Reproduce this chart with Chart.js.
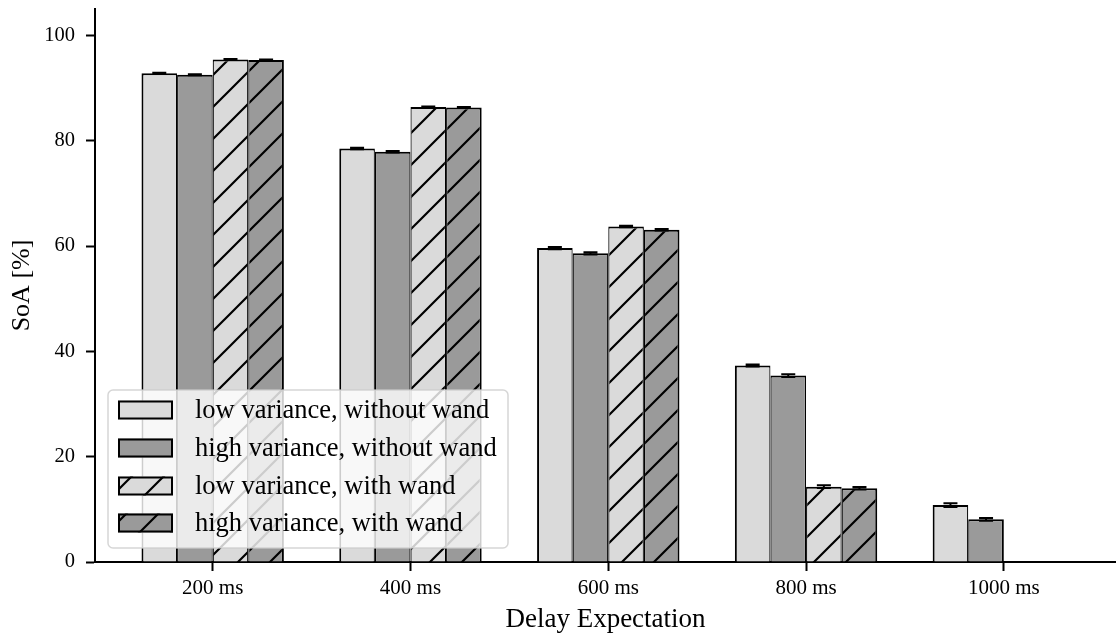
<!DOCTYPE html>
<html>
<head>
<meta charset="utf-8">
<script src="https://cdn.jsdelivr.net/npm/chart.js@4"></script>
<style>
  html, body { margin: 0; padding: 0; background: #fff; overflow: hidden; }
  canvas { display: block; }
</style>
</head>
<body>
<canvas id="c" width="1116" height="637"></canvas>
<script>
// ---- data ----
const categories = ['200 ms', '400 ms', '600 ms', '800 ms', '1000 ms'];
const seriesLabels = ['low variance, without wand', 'high variance, without wand', 'low variance, with wand', 'high variance, with wand'];
const lowNoWand  = [92.8, 78.5, 59.6, 37.3, 10.8];
const highNoWand = [92.5, 77.9, 58.6, 35.4, 8.1];
const lowWand    = [95.4, 86.4, 63.7, 14.3, null];
const highWand   = [95.3, 86.3, 63.1, 14.0, null];
const errLowNoWand  = [0.1, 0.15, 0.2, 0.2, 0.35];
const errHighNoWand = [0.1, 0.15, 0.2, 0.25, 0.25];
const errLowWand    = [0.1, 0.1, 0.15, 0.25, null];
const errHighWand   = [0.1, 0.1, 0.15, 0.25, null];
const yTicks = [0, 20, 40, 60, 80, 100];

// ---- styles ----
const LIGHT = '#dadada';
const DARK = '#9a9a9a';
const FONT = "'Liberation Serif', 'DejaVu Serif', serif";

function hatch(bg) {
  const c = document.createElement('canvas');
  c.width = 32; c.height = 32;
  const g = c.getContext('2d');
  g.fillStyle = bg; g.fillRect(0, 0, 32, 32);
  g.strokeStyle = '#000'; g.lineWidth = 2.2; g.lineCap = 'square';
  g.beginPath();
  g.moveTo(0, 32); g.lineTo(32, 0);
  g.moveTo(-8, 8); g.lineTo(8, -8);
  g.moveTo(24, 40); g.lineTo(40, 24);
  g.stroke();
  return g.createPattern(c, 'repeat');
}

const values = [lowNoWand, highNoWand, lowWand, highWand];
const errors = [errLowNoWand, errHighNoWand, errLowWand, errHighWand];
const fills = [LIGHT, DARK, hatch(LIGHT), hatch(DARK)];

function hasVal(ds, i) { return ds >= 0 && ds < values.length && values[ds][i] != null; }

const datasets = values.map((arr, k) => ({
  label: seriesLabels[k],
  data: arr.map((v, i) => ({ x: i, y: v })),
  backgroundColor: fills[k],
  borderColor: '#000',
  borderSkipped: false,
  borderWidth: (ctx) => {
    const i = ctx.dataIndex, d = ctx.datasetIndex;
    return { top: 2, bottom: 0, left: hasVal(d - 1, i) ? 1.2 : 2, right: hasVal(d + 1, i) ? 1.2 : 2 };
  },
  barPercentage: 1.0,
  categoryPercentage: 0.72
}));

const errorBars = {
  id: 'errorBars',
  afterDatasetsDraw(chart) {
    const ctx = chart.ctx, ys = chart.scales.y;
    ctx.save();
    ctx.strokeStyle = '#000';
    ctx.lineWidth = 2;
    chart.data.datasets.forEach((ds, k) => {
      const meta = chart.getDatasetMeta(k);
      meta.data.forEach((el, i) => {
        const v = values[k][i], e = errors[k][i];
        if (v == null || e == null) return;
        const y1 = ys.getPixelForValue(v - e), y2 = ys.getPixelForValue(v + e);
        ctx.beginPath();
        ctx.moveTo(el.x, y1); ctx.lineTo(el.x, y2);
        ctx.moveTo(el.x - 7, y1); ctx.lineTo(el.x + 7, y1);
        ctx.moveTo(el.x - 7, y2); ctx.lineTo(el.x + 7, y2);
        ctx.stroke();
      });
    });
    ctx.restore();
  }
};

const innerLegend = {
  id: 'innerLegend',
  afterDraw(chart) {
    const ctx = chart.ctx;
    const bx = 108, by = 390, bw = 400, bh = 158, r = 5;
    ctx.save();
    ctx.beginPath();
    ctx.roundRect(bx, by, bw, bh, r);
    ctx.fillStyle = 'rgba(255,255,255,0.8)';
    ctx.fill();
    ctx.strokeStyle = 'rgba(204,204,204,0.8)';
    ctx.lineWidth = 1.5;
    ctx.stroke();
    const rowY = [410, 448, 486, 523];
    chart.data.datasets.forEach((ds, k) => {
      const cy = rowY[k];
      ctx.fillStyle = fills[k];
      ctx.fillRect(118, cy - 9.5, 55, 19);
      ctx.strokeStyle = '#000';
      ctx.lineWidth = 2;
      ctx.strokeRect(119, cy - 8.5, 53, 17);
      ctx.fillStyle = '#000';
      ctx.font = '26.5px ' + FONT;
      ctx.textBaseline = 'middle';
      ctx.textAlign = 'left';
      ctx.fillText(ds.label, 195, cy + 1);
    });
    ctx.restore();
  }
};

new Chart(document.getElementById('c'), {
  type: 'bar',
  data: { datasets },
  options: {
    responsive: false,
    animation: false,
    layout: { padding: { top: 9, left: 0, right: 0, bottom: 0 } },
    plugins: { legend: { display: false }, tooltip: { enabled: false } },
    scales: {
      x: {
        type: 'linear',
        min: -0.595,
        max: 4.567,
        offset: false,
        afterBuildTicks: (s) => { s.ticks = categories.map((_, i) => ({ value: i })); },
        afterFit: (s) => { s.height = 75; s.paddingLeft = 0; s.paddingRight = 0; },
        ticks: {
          autoSkip: false,
          maxRotation: 0,
          padding: 5,
          color: '#000',
          font: { family: FONT, size: 21 },
          callback: (v) => categories[v]
        },
        grid: { offset: false, drawOnChartArea: false, drawTicks: true, tickLength: 9, tickWidth: 2, tickColor: '#000' },
        border: { display: true, color: '#000', width: 2 },
        title: { display: true, text: 'Delay Expectation', color: '#000', font: { family: FONT, size: 27 }, padding: { top: 0, bottom: 1 } }
      },
      y: {
        min: 0,
        max: 105,
        afterBuildTicks: (s) => { s.ticks = yTicks.map(v => ({ value: v })); },
        afterFit: (s) => { s.width = 95; s.paddingTop = 0; s.paddingBottom = 0; },
        ticks: { padding: 11, color: '#000', font: { family: FONT, size: 20.5 } },
        grid: { drawOnChartArea: false, drawTicks: true, tickLength: 9, tickWidth: 2, tickColor: '#000' },
        border: { display: true, color: '#000', width: 2 },
        title: { display: true, text: 'SoA [%]', color: '#000', font: { family: FONT, size: 26 }, padding: { top: 7, bottom: 0 } }
      }
    }
  },
  plugins: [errorBars, innerLegend]
});
</script>
</body>
</html>
